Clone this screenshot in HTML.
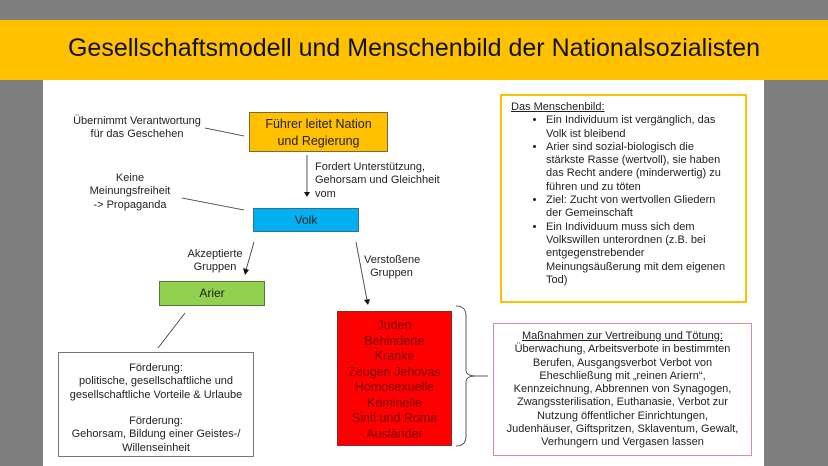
<!DOCTYPE html>
<html><head><meta charset="utf-8"><style>
body{margin:0;width:828px;height:466px;background:#7f7f7f;position:relative;overflow:hidden;font-family:"Liberation Sans",sans-serif;}
.a{position:absolute;}
.t{font-size:11px;color:#222;line-height:13.3px;}
.c{text-align:center;}
</style></head><body>
<div class="a" style="left:0;top:20px;width:828px;height:60px;background:#ffc000;"></div>
<div class="a c" style="left:0;top:34px;width:828px;font-size:25px;color:#111;">Gesellschaftsmodell und Menschenbild der Nationalsozialisten</div>
<div class="a" style="left:43px;top:80px;width:721px;height:386px;background:#fff;"></div>

<svg class="a" style="left:0;top:0" width="828" height="466">
<g stroke="#333" stroke-width="0.8" fill="none">
<line x1="205" y1="128" x2="244" y2="136"/>
<line x1="182" y1="198" x2="244" y2="210"/>
<line x1="307" y1="155" x2="307" y2="192"/>
<line x1="254" y1="242" x2="246" y2="270"/>
<line x1="356" y1="242" x2="367" y2="300"/>
<line x1="185" y1="313" x2="158" y2="348"/>
<path d="M456 306 Q466 306 466 316 L466 370 Q466 376 476 376 Q466 376 466 382 L466 436 Q466 446 456 446"/>
<line x1="476" y1="376" x2="488" y2="376"/>
</g>
<g fill="#111">
<path d="M304 192 L310 192 L307 197Z"/>
<path d="M243 268 L249 270 L245 275Z"/>
<path d="M364 300 L370 299 L368 305Z"/>
</g>
</svg>

<div class="a t c" style="left:57px;top:115px;width:160px;">Übernimmt Verantwortung<br>für das Geschehen</div>
<div class="a c" style="left:249px;top:112px;width:139px;height:40px;background:#ffc000;border:1px solid #7a6a3a;box-sizing:border-box;font-size:12.5px;line-height:17px;padding-top:3px;color:#222;">Führer leitet Nation<br>und Regierung</div>
<div class="a t" style="left:315px;top:161px;">Fordert Unterstützung,<br>Gehorsam und Gleichheit<br>vom</div>
<div class="a t c" style="left:65px;top:172px;width:130px;">Keine<br>Meinungsfreiheit<br>-&gt; Propaganda</div>
<div class="a c" style="left:253px;top:208px;width:106px;height:24px;background:#00b0f0;border:1px solid #3a6f8a;box-sizing:border-box;font-size:12px;line-height:22px;color:#222;">Volk</div>
<div class="a t c" style="left:178px;top:248px;width:74px;">Akzeptierte<br>Gruppen</div>
<div class="a t" style="left:364px;top:254px;">Verstoßene<br>&nbsp;&nbsp;Gruppen</div>
<div class="a c" style="left:159px;top:281px;width:106px;height:25px;background:#92d050;border:1px solid #557a35;box-sizing:border-box;font-size:12px;line-height:23px;color:#222;">Arier</div>
<div class="a t c" style="left:58px;top:352px;width:196px;height:105px;border:1px solid #777;box-sizing:border-box;padding-top:9px;">Förderung:<br>politische, gesellschaftliche und<br>gesellschaftliche Vorteile &amp; Urlaube<br><br>Förderung:<br>Gehorsam, Bildung einer Geistes-/<br>Willenseinheit</div>
<div class="a c" style="left:337px;top:311px;width:115px;height:135px;background:#ff0000;border:1px solid #8a2a2a;box-sizing:border-box;font-size:12.5px;line-height:15.5px;color:#7a0000;padding-top:6px;">Juden<br>Behinderte<br>Kranke<br>Zeugen Jehovas<br>Homosexuelle<br>Kriminelle<br>Sinti und Roma<br>Ausländer</div>
<div class="a t" style="left:500px;top:94px;width:247px;height:209px;border:2px solid #ffc000;box-sizing:border-box;padding:5px 18px 4px 9px;">
<u>Das Menschenbild:</u>
<ul style="margin:0;padding-left:35px;">
<li>Ein Individuum ist vergänglich, das Volk ist bleibend</li>
<li>Arier sind sozial-biologisch die stärkste Rasse (wertvoll), sie haben das Recht andere (minderwertig) zu führen und zu töten</li>
<li>Ziel: Zucht von wertvollen Gliedern der Gemeinschaft</li>
<li>Ein Individuum muss sich dem Volkswillen unterordnen (z.B. bei entgegenstrebender Meinungsäußerung mit dem eigenen Tod)</li>
</ul></div>
<div class="a t c" style="left:493px;top:323px;width:259px;height:133px;border:1px solid #e08a95;box-sizing:border-box;padding-top:6px;"><u>Maßnahmen zur Vertreibung und Tötung:</u><br>Überwachung, Arbeitsverbote in bestimmten<br>Berufen, Ausgangsverbot Verbot von<br>Eheschließung mit „reinen Ariern“,<br>Kennzeichnung, Abbrennen von Synagogen,<br>Zwangssterilisation, Euthanasie, Verbot zur<br>Nutzung öffentlicher Einrichtungen,<br>Judenhäuser, Giftspritzen, Sklaventum, Gewalt,<br>Verhungern und Vergasen lassen</div>
</body></html>
